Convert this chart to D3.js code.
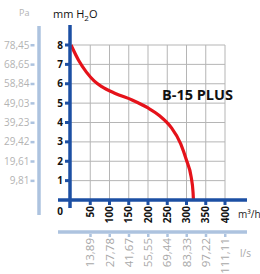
<!DOCTYPE html>
<html><head><meta charset="utf-8">
<script src="https://cdn.jsdelivr.net/npm/d3@7"></script>
<style>body{margin:0;background:#fff;}svg{display:block;font-family:"Open Sans",sans-serif;}</style>
</head><body>
<script>
const flowTicks = [50,100,150,200,250,300,350,400];
const lsLabels = ["13,89","27,78","41,67","55,55","69,44","83,33","97,22","111,11"];
const mmTicks = [1,2,3,4,5,6,7,8];
const paLabels = ["9,81","19,61","29,42","39,23","49,03","58,84","68,65","78,45"];
const curveFlow = [0,20,40,60,80,115,160,200,230,260,285,300,312,317,318];
const curvePress = [8,7.2,6.6,6.15,5.85,5.5,5.15,4.75,4.35,3.75,2.9,2.05,1.2,0.4,0];

const W=260,H=274;
const svg=d3.select("body").append("svg").attr("width",W).attr("height",H);
const x=d3.scaleLinear().domain([0,400]).range([71,225]);
const y=d3.scaleLinear().domain([0,8]).range([200,45]);
const blue="#1c4fa3", light="#adc3df", gray="#a8a8a8", grid="#b5b5b5";

// grid
svg.append("g").selectAll("line").data(flowTicks).join("line")
  .attr("x1",d=>x(d)).attr("x2",d=>x(d)).attr("y1",y(0)).attr("y2",y(8))
  .attr("stroke",grid).attr("stroke-width",1);
svg.append("g").selectAll("line").data(mmTicks).join("line")
  .attr("x1",x(0)).attr("x2",x(400)).attr("y1",d=>y(d)).attr("y2",d=>y(d))
  .attr("stroke",grid).attr("stroke-width",1);

// curve
svg.append("path").datum(curveFlow.map((f,i)=>[f,curvePress[i]]))
  .attr("d",d3.line().x(d=>x(d[0])).y(d=>y(d[1])).curve(d3.curveMonotoneX))
  .attr("fill","none").attr("stroke","#e5121a").attr("stroke-width",3.2);

// main axes
svg.append("line").attr("x1",x(0)-1).attr("x2",x(0)-1).attr("y1",25).attr("y2",208).attr("stroke",blue).attr("stroke-width",3.5);
svg.append("line").attr("x1",58).attr("x2",247).attr("y1",y(0)).attr("y2",y(0)).attr("stroke",blue).attr("stroke-width",3.5);

// y ticks
svg.append("g").selectAll("rect").data(mmTicks).join("rect")
  .attr("x",x(0)-6).attr("y",d=>y(d)-1.5).attr("width",4).attr("height",3).attr("fill",blue);
svg.append("g").selectAll("text").data(mmTicks).join("text")
  .attr("x",63).attr("y",d=>y(d)+3.5).attr("text-anchor","end")
  .attr("font-size",10).attr("font-weight","bold").attr("fill","#111").text(d=>d);
svg.append("text").attr("x",63).attr("y",215).attr("text-anchor","end")
  .attr("font-size",10).attr("font-weight","bold").attr("fill","#111").text("0");

// x ticks
svg.append("g").selectAll("rect").data(flowTicks).join("rect")
  .attr("x",d=>x(d)-1.5).attr("y",y(0)+1).attr("width",3).attr("height",4).attr("fill",blue);
svg.append("g").selectAll("text").data(flowTicks).join("text")
  .attr("transform",d=>`translate(${x(d)+3.5},${y(0)+6}) rotate(-90)`).attr("text-anchor","end")
  .attr("font-size",10).attr("font-weight","bold").attr("fill","#111").text(d=>d);
svg.append("text").attr("x",238).attr("y",218).attr("font-size",10).attr("fill","#222").text("m³/h");

// Pa axis
svg.append("line").attr("x1",39).attr("x2",39).attr("y1",26).attr("y2",215).attr("stroke",light).attr("stroke-width",3.5);
svg.append("g").selectAll("rect").data(mmTicks).join("rect")
  .attr("x",30.5).attr("y",d=>y(d)-1).attr("width",4).attr("height",2.5).attr("fill",light);
svg.append("g").selectAll("text").data(paLabels).join("text")
  .attr("x",29.5).attr("y",(d,i)=>y(mmTicks[i])+3.5).attr("text-anchor","end")
  .attr("font-size",10).attr("fill","#b3b3b3").text(d=>d);
svg.append("text").attr("x",19).attr("y",16).attr("font-size",9).attr("fill","#b3b3b3").text("Pa");

// l/s axis
svg.append("line").attr("x1",58).attr("x2",247).attr("y1",232).attr("y2",232).attr("stroke",light).attr("stroke-width",3.5);
svg.append("g").selectAll("rect").data(flowTicks).join("rect")
  .attr("x",d=>x(d)-1).attr("y",234).attr("width",2.5).attr("height",3).attr("fill",light);
svg.append("g").selectAll("text").data(lsLabels).join("text")
  .attr("transform",(d,i)=>`translate(${x(flowTicks[i])+4},238) rotate(-90)`).attr("text-anchor","end")
  .attr("font-size",11.5).attr("fill",gray).text(d=>d);
svg.append("text").attr("x",240).attr("y",257).attr("font-size",10).attr("fill",gray).text("l/s");

// titles
const t=svg.append("text").attr("x",53).attr("y",18).attr("font-size",11).attr("fill","#111");
t.append("tspan").text("mm H");
t.append("tspan").attr("font-size",8).attr("dy",3).text("2");
t.append("tspan").attr("dy",-3).text("O");
svg.append("text").attr("x",162).attr("y",100).attr("font-size",14.5).attr("font-weight","bold").attr("fill","#111").text("B-15 PLUS");
</script>
</body></html>
